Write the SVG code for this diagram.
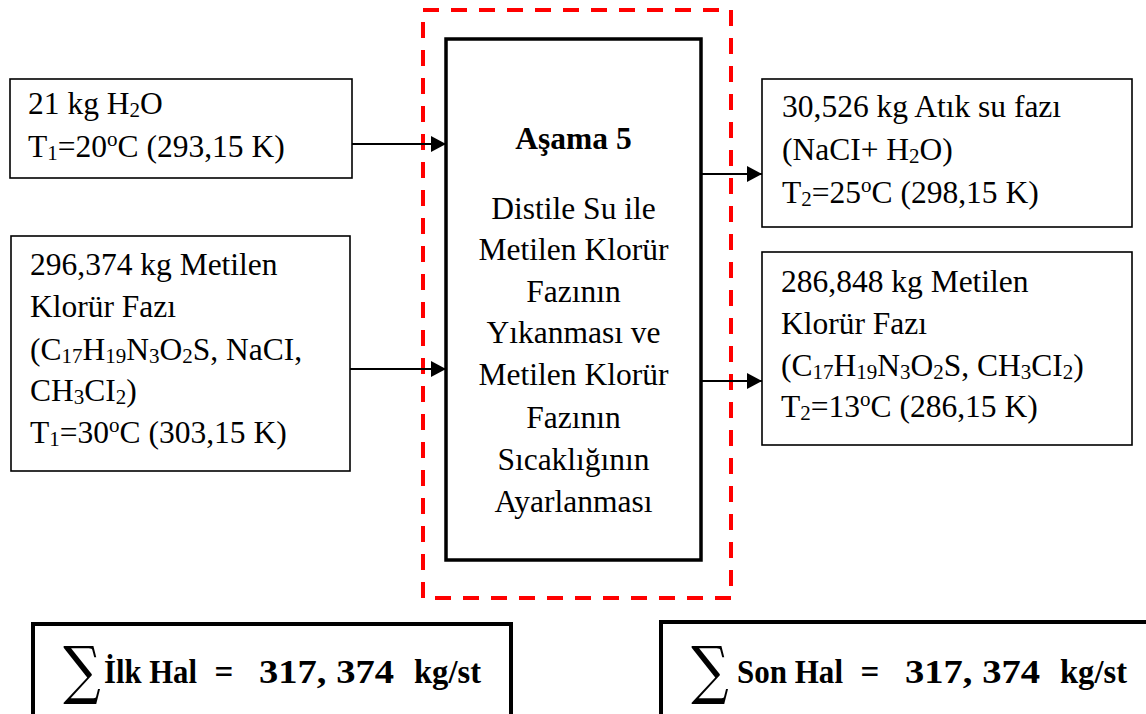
<svg xmlns="http://www.w3.org/2000/svg" width="1146" height="714" viewBox="0 0 1146 714">
  <defs>
    <style>
      .box{fill:#fff;stroke:#000;stroke-width:1.6}
      .main{fill:#fff;stroke:#000;stroke-width:3.5}
      .frame{fill:none;stroke:#ff0000;stroke-width:4;stroke-dasharray:16 12}
      .sum{fill:#fff;stroke:#000;stroke-width:4}
      .t{font-family:"Liberation Serif","Times New Roman",serif;font-size:31.5px;fill:#000}
      .b{font-weight:bold}
      .s{font-size:21px}
      .f{font-family:"Liberation Serif","Times New Roman",serif;font-weight:bold;font-size:33px;fill:#000}
      .sig{font-family:"DejaVu Serif",serif;font-size:64px;fill:#000}
      .link{stroke:#000;stroke-width:2;fill:none;marker-end:url(#arrow)}
    </style>
    <marker id="arrow" markerUnits="userSpaceOnUse" markerWidth="15" markerHeight="16" refX="15" refY="8" orient="auto" viewBox="0 0 15 16">
      <path d="M0,0 L15,8 L0,16 z" fill="#000"/>
    </marker>
  </defs>

  <rect width="1146" height="714" fill="#fff"/>

  <!-- process stage boundary -->
  <rect id="stage-frame" class="frame" x="423" y="10" width="308" height="588"/>

  <!-- input: water -->
  <g id="in-water">
    <rect class="box" x="10" y="79" width="342" height="99"/>
    <g class="t">
      <text x="28" y="114">21 kg H<tspan class="s" dy="3">2</tspan><tspan dy="-3">O</tspan></text>
      <text x="28" y="157">T<tspan class="s" dy="3">1</tspan><tspan dy="-3">=20</tspan><tspan class="s" dy="-11">o</tspan><tspan dy="11">C (293,15 K)</tspan></text>
    </g>
  </g>

  <!-- input: methylene chloride phase -->
  <g id="in-organic">
    <rect class="box" x="11" y="236" width="339" height="235"/>
    <g class="t">
      <text x="30" y="275">296,374 kg Metilen</text>
      <text x="30" y="317">Klorür Fazı</text>
      <text x="30" y="360">(C<tspan class="s" dy="3">17</tspan><tspan dy="-3">H</tspan><tspan class="s" dy="3">19</tspan><tspan dy="-3">N</tspan><tspan class="s" dy="3">3</tspan><tspan dy="-3">O</tspan><tspan class="s" dy="3">2</tspan><tspan dy="-3">S, NaCI,</tspan></text>
      <text x="30" y="401">CH<tspan class="s" dy="3">3</tspan><tspan dy="-3">CI</tspan><tspan class="s" dy="3">2</tspan><tspan dy="-3">)</tspan></text>
      <text x="30" y="443">T<tspan class="s" dy="3">1</tspan><tspan dy="-3">=30</tspan><tspan class="s" dy="-11">o</tspan><tspan dy="11">C (303,15 K)</tspan></text>
    </g>
  </g>

  <!-- stage 5 -->
  <g id="stage-5">
    <rect class="main" x="446" y="39" width="255" height="521"/>
    <g class="t" text-anchor="middle">
      <text class="b" x="573.5" y="149">Aşama 5</text>
      <text x="573.5" y="219">Distile Su ile</text>
      <text x="573.5" y="260">Metilen Klorür</text>
      <text x="573.5" y="302">Fazının</text>
      <text x="573.5" y="343">Yıkanması ve</text>
      <text x="573.5" y="385">Metilen Klorür</text>
      <text x="573.5" y="428">Fazının</text>
      <text x="573.5" y="470">Sıcaklığının</text>
      <text x="573.5" y="512">Ayarlanması</text>
    </g>
  </g>

  <!-- output: waste water phase -->
  <g id="out-water">
    <rect class="box" x="762" y="79" width="370" height="148"/>
    <g class="t">
      <text x="782" y="117">30,526 kg Atık su fazı</text>
      <text x="782" y="160">(NaCI+ H<tspan class="s" dy="3">2</tspan><tspan dy="-3">O)</tspan></text>
      <text x="782" y="203">T<tspan class="s" dy="3">2</tspan><tspan dy="-3">=25</tspan><tspan class="s" dy="-11">o</tspan><tspan dy="11">C (298,15 K)</tspan></text>
    </g>
  </g>

  <!-- output: methylene chloride phase -->
  <g id="out-organic">
    <rect class="box" x="762" y="252" width="370" height="193"/>
    <g class="t">
      <text x="781" y="292">286,848 kg Metilen</text>
      <text x="781" y="334">Klorür Fazı</text>
      <text x="781" y="376">(C<tspan class="s" dy="3">17</tspan><tspan dy="-3">H</tspan><tspan class="s" dy="3">19</tspan><tspan dy="-3">N</tspan><tspan class="s" dy="3">3</tspan><tspan dy="-3">O</tspan><tspan class="s" dy="3">2</tspan><tspan dy="-3">S, CH</tspan><tspan class="s" dy="3">3</tspan><tspan dy="-3">CI</tspan><tspan class="s" dy="3">2</tspan><tspan dy="-3">)</tspan></text>
      <text x="781" y="417">T<tspan class="s" dy="3">2</tspan><tspan dy="-3">=13</tspan><tspan class="s" dy="-11">o</tspan><tspan dy="11">C (286,15 K)</tspan></text>
    </g>
  </g>

  <!-- flows -->
  <g id="connectors">
    <line class="link" x1="352" y1="144" x2="446" y2="144"/>
    <line class="link" x1="350" y1="369" x2="446" y2="369"/>
    <line class="link" x1="701" y1="174" x2="762" y2="174"/>
    <line class="link" x1="701" y1="381" x2="762" y2="381"/>
  </g>

  <!-- mass balance: inputs -->
  <g id="sum-in">
    <rect class="sum" x="33" y="624" width="478" height="100"/>
    <text class="sig" transform="translate(82 692) scale(0.82 1)" text-anchor="middle">∑</text>
    <text class="f" x="104" y="683" textLength="93" lengthAdjust="spacingAndGlyphs">İlk Hal</text>
    <text class="f" x="224" y="683" text-anchor="middle">=</text>
    <text class="f" x="259" y="683" textLength="135" lengthAdjust="spacingAndGlyphs">317, 374</text>
    <text class="f" x="414" y="683" textLength="67" lengthAdjust="spacingAndGlyphs">kg/st</text>
  </g>

  <!-- mass balance: outputs -->
  <g id="sum-out">
    <rect class="sum" x="661" y="622" width="500" height="100"/>
    <text class="sig" transform="translate(710 692) scale(0.82 1)" text-anchor="middle">∑</text>
    <text class="f" x="737" y="683" textLength="106" lengthAdjust="spacingAndGlyphs">Son Hal</text>
    <text class="f" x="870" y="683" text-anchor="middle">=</text>
    <text class="f" x="905" y="683" textLength="135" lengthAdjust="spacingAndGlyphs">317, 374</text>
    <text class="f" x="1060" y="683" textLength="67" lengthAdjust="spacingAndGlyphs">kg/st</text>
  </g>
</svg>
